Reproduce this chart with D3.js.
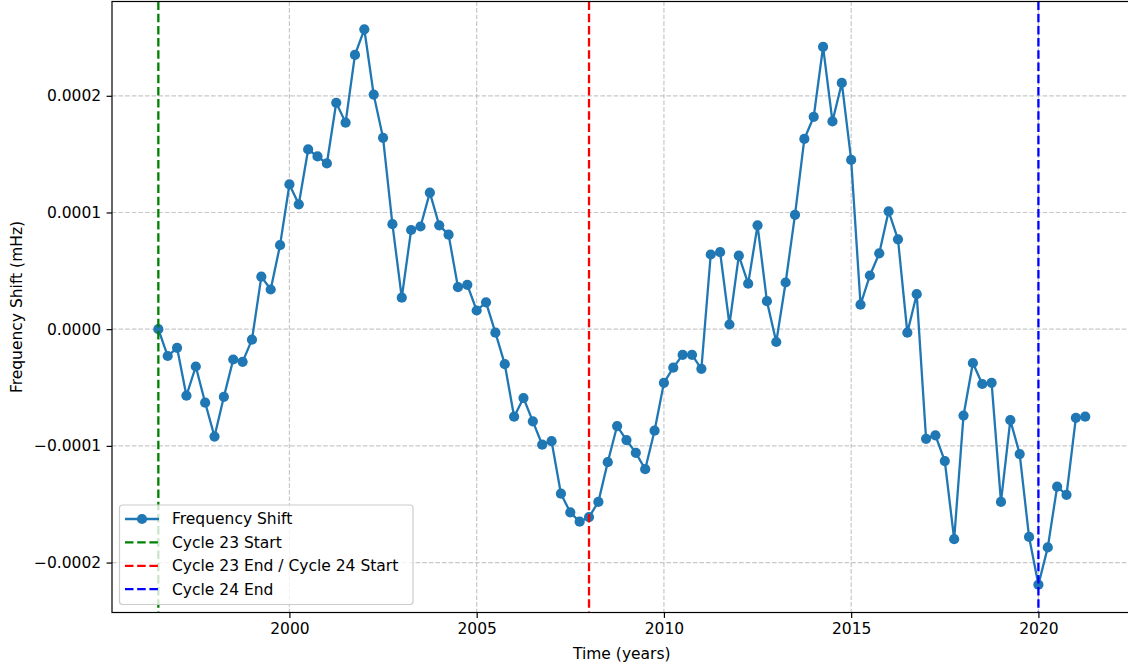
<!DOCTYPE html>
<html>
<head>
<meta charset="utf-8">
<script src="https://cdn.jsdelivr.net/npm/d3@7"></script>
<style>
  body { margin: 0; background: #fff; }
  svg { display: block; font-family: "DejaVu Sans", sans-serif; }
</style>
</head>
<body>
<div id="chart"></div>
<script>
// sample times (years), quarterly
const years = [
    1996.5, 1996.75, 1997, 1997.25, 1997.5, 1997.75, 1998, 1998.25, 1998.5, 1998.75, 1999, 1999.25, 1999.5, 1999.75, 2000, 2000.25, 2000.5,
    2000.75, 2001, 2001.25, 2001.5, 2001.75, 2002, 2002.25, 2002.5, 2002.75, 2003, 2003.25, 2003.5, 2003.75, 2004, 2004.25, 2004.5, 2004.75,
    2005, 2005.25, 2005.5, 2005.75, 2006, 2006.25, 2006.5, 2006.75, 2007, 2007.25, 2007.5, 2007.75, 2008, 2008.25, 2008.5, 2008.75, 2009,
    2009.25, 2009.5, 2009.75, 2010, 2010.25, 2010.5, 2010.75, 2011, 2011.25, 2011.5, 2011.75, 2012, 2012.25, 2012.5, 2012.75, 2013, 2013.25,
    2013.5, 2013.75, 2014, 2014.25, 2014.5, 2014.75, 2015, 2015.25, 2015.5, 2015.75, 2016, 2016.25, 2016.5, 2016.75,
    2017, 2017.25, 2017.5, 2017.75, 2018, 2018.25, 2018.5, 2018.75, 2019, 2019.25, 2019.5, 2019.75, 2020, 2020.25, 2020.5, 2020.75, 2021, 2021.25
];

// frequency shift in units of 1e-4 mHz
const shift = [
    0.00, -0.23, -0.16, -0.57, -0.32, -0.63, -0.92, -0.58, -0.26, -0.28, -0.09, 0.45, 0.34, 0.72, 1.24, 1.07, 1.54,
    1.48, 1.42, 1.94, 1.77, 2.35, 2.57, 2.01, 1.64, 0.90, 0.27, 0.85, 0.88, 1.17, 0.89, 0.81, 0.36, 0.38,
    0.16, 0.23, -0.03, -0.30, -0.75, -0.59, -0.79, -0.99, -0.96, -1.41, -1.57, -1.65, -1.61, -1.48, -1.14, -0.83, -0.95,
    -1.06, -1.20, -0.87, -0.46, -0.33, -0.22, -0.22, -0.34, 0.64, 0.66, 0.04, 0.63, 0.39, 0.89, 0.24, -0.11, 0.40,
    0.98, 1.63, 1.82, 2.42, 1.78, 2.11, 1.45, 0.21, 0.46, 0.65, 1.01, 0.77, -0.03, 0.30,
    -0.94, -0.91, -1.13, -1.80, -0.74, -0.29, -0.47, -0.46, -1.48, -0.78, -1.07, -1.78, -2.19, -1.87, -1.35, -1.42, -0.76, -0.75
];

const cycleLines = [
    { year: 1996.5, color: "#008000", label: "Cycle 23 Start" },
    { year: 2008.0, color: "#ff0000", label: "Cycle 23 End / Cycle 24 Start" },
    { year: 2020.0, color: "#0000ff", label: "Cycle 24 End" }
];

const xTicks = [2000, 2005, 2010, 2015, 2020];
const yTicks = [-0.0002, -0.0001, 0, 0.0001, 0.0002];

const data = years.map((t, i) => ({ t: t, v: shift[i] * 1e-4 }));

const width = 1128, height = 665;
const fontSize = 15.5;
const blue = "#1f77b4";
const markerR = 5.1;

const svg = d3.select("#chart")
    .append("svg")
    .attr("width", width)
    .attr("height", height);

// matplotlib style 5% margins
const xExt = d3.extent(years);
const xPad = (xExt[1] - xExt[0]) * 0.05;
const yExt = d3.extent(data, d => d.v);
const yPad = (yExt[1] - yExt[0]) * 0.05;

const plotLeft = 112, plotTop = 1.5, plotBottom = 612.5;
const plotRight = plotLeft + (xExt[1] - xExt[0] + 2 * xPad) * 37.45;

const x = d3.scaleLinear()
    .domain([xExt[0] - xPad, xExt[1] + xPad])
    .range([plotLeft, plotRight]);

const y = d3.scaleLinear()
    .domain([yExt[0] - yPad, yExt[1] + yPad])
    .range([plotBottom, plotTop]);

svg.append("defs").append("clipPath").attr("id", "plotclip")
    .append("rect")
    .attr("x", plotLeft).attr("y", plotTop)
    .attr("width", plotRight - plotLeft).attr("height", plotBottom - plotTop);

// grid
const grid = svg.append("g").attr("clip-path", "url(#plotclip)");
grid.selectAll("line.gx")
    .data(xTicks)
    .enter()
    .append("line")
    .attr("class", "gx")
    .attr("x1", d => x(d)).attr("x2", d => x(d))
    .attr("y1", plotTop).attr("y2", plotBottom)
    .attr("stroke", "#b0b0b0")
    .attr("stroke-opacity", 0.7)
    .attr("stroke-width", 1.2)
    .attr("stroke-dasharray", "4.6,2");
grid.selectAll("line.gy")
    .data(yTicks)
    .enter()
    .append("line")
    .attr("class", "gy")
    .attr("x1", plotLeft).attr("x2", plotRight)
    .attr("y1", d => y(d)).attr("y2", d => y(d))
    .attr("stroke", "#b0b0b0")
    .attr("stroke-opacity", 0.7)
    .attr("stroke-width", 1.2)
    .attr("stroke-dasharray", "4.6,2");

// data line and markers
const plot = svg.append("g").attr("clip-path", "url(#plotclip)");
plot.append("path")
    .datum(data)
    .attr("fill", "none")
    .attr("stroke", blue)
    .attr("stroke-width", 2.3)
    .attr("stroke-linejoin", "round")
    .attr("d", d3.line().x(d => x(d.t)).y(d => y(d.v)));

plot.selectAll("circle")
    .data(data)
    .enter()
    .append("circle")
    .attr("cx", d => x(d.t))
    .attr("cy", d => y(d.v))
    .attr("r", markerR)
    .attr("fill", blue);

// cycle boundary lines
plot.selectAll("line.cycle")
    .data(cycleLines)
    .enter()
    .append("line")
    .attr("class", "cycle")
    .attr("x1", d => x(d.year)).attr("x2", d => x(d.year))
    .attr("y1", plotTop).attr("y2", plotBottom)
    .attr("stroke", d => d.color)
    .attr("stroke-width", 2.3)
    .attr("stroke-dasharray", "8.5,3.7");

// axes
const xAxis = svg.append("g")
    .attr("transform", `translate(0,${plotBottom})`)
    .call(d3.axisBottom(x).tickValues(xTicks).tickFormat(d3.format("d")).tickSize(5.4).tickPadding(5.4));
const yAxis = svg.append("g")
    .attr("transform", `translate(${plotLeft},0)`)
    .call(d3.axisLeft(y).tickValues(yTicks).tickFormat(d3.format(".4f")).tickSize(5.4).tickPadding(5.4));

[xAxis, yAxis].forEach(a => {
    a.select(".domain").remove();
    a.selectAll(".tick line").attr("stroke", "#000").attr("stroke-width", 1.2);
    a.selectAll(".tick text")
        .attr("fill", "#000")
        .style("font-family", "DejaVu Sans")
        .style("font-size", fontSize + "px");
});

// spines
svg.append("rect")
    .attr("x", plotLeft).attr("y", plotTop)
    .attr("width", plotRight - plotLeft).attr("height", plotBottom - plotTop)
    .attr("fill", "none")
    .attr("stroke", "#000")
    .attr("stroke-width", 1.2);

// axis labels
svg.append("text")
    .attr("x", (plotLeft + plotRight) / 2)
    .attr("y", 659)
    .attr("text-anchor", "middle")
    .style("font-size", fontSize + "px")
    .text("Time (years)");

svg.append("text")
    .attr("transform", `translate(22,${(plotTop + plotBottom) / 2}) rotate(-90)`)
    .attr("text-anchor", "middle")
    .style("font-size", fontSize + "px")
    .text("Frequency Shift (mHz)");

// legend
const legendItems = [{ label: "Frequency Shift", color: blue, dashed: false }]
    .concat(cycleLines.map(c => ({ label: c.label, color: c.color, dashed: true })));

const legend = svg.append("g");
legend.append("rect")
    .attr("x", 119.5).attr("y", 505)
    .attr("width", 293.5).attr("height", 99.5)
    .attr("rx", 3)
    .attr("fill", "#fff")
    .attr("fill-opacity", 0.8)
    .attr("stroke", "#cccccc")
    .attr("stroke-width", 1.2);

const rows = legend.selectAll("g.row")
    .data(legendItems)
    .enter()
    .append("g")
    .attr("class", "row")
    .attr("transform", (d, i) => `translate(0,${519 + i * 23.4})`);

rows.append("line")
    .attr("x1", 125).attr("x2", 159)
    .attr("y1", 0).attr("y2", 0)
    .attr("stroke", d => d.color)
    .attr("stroke-width", 2.3)
    .attr("stroke-dasharray", d => d.dashed ? "8.5,3.7" : null);

rows.filter(d => !d.dashed)
    .append("circle")
    .attr("cx", 142).attr("cy", 0)
    .attr("r", markerR)
    .attr("fill", d => d.color);

rows.append("text")
    .attr("x", 172)
    .attr("y", 0)
    .attr("dy", "0.35em")
    .style("font-size", fontSize + "px")
    .text(d => d.label);
</script>
</body>
</html>
